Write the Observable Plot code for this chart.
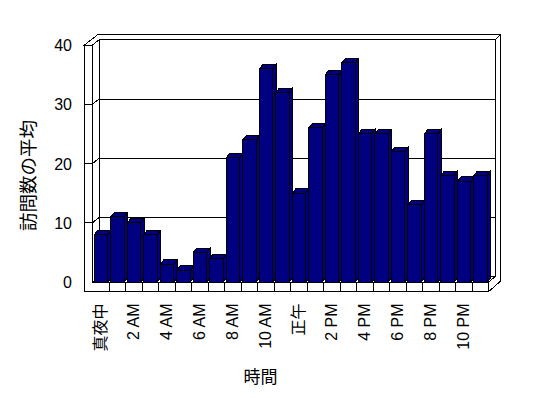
<!DOCTYPE html>
<html><head><meta charset="utf-8">
<script src="https://cdn.jsdelivr.net/npm/d3@7"></script>
<script src="https://cdn.jsdelivr.net/npm/@observablehq/plot@0.6"></script>
<style>body{margin:0;background:#fff}</style>
</head><body><div id="chart"></div>
<script>
// ---- data ----
const hours = [0,1,2,3,4,5,6,7,8,9,10,11,12,13,14,15,16,17,18,19,20,21,22,23];
const visits = [8,11,10,8,3,2,5,4,21,24,36,32,15,26,35,37,25,25,22,13,25,18,17,18];
const xTickHours = [0,2,4,6,8,10,12,14,16,18,20,22];
const xTickLabels = ["真夜中","2 AM","4 AM","6 AM","8 AM","10 AM","正午","2 PM","4 PM","6 PM","8 PM","10 PM"];
const yTicks = [0,10,20,30,40];
const yGrid = [10,20,30];
const yTitle = "訪問数の平均";
const xTitle = "時間";

const rows = hours.map((h, i) => ({h, v: visits[i]}));

// ---- 3D styling constants (pixels) ----
const DEPTH = [6.5, -5.2];   // floor depth
const WALL = [5.7, -5.5];    // back wall thickness
const BAR = [3.3, -4.3];     // bar depth
const LW = 8;                // left wall front thickness
const FLOOR = 9.7;           // floor thickness
const BL = 0.12, BR = 0.93;  // bar front face within band
const NAVY = "#000080";

function pts(a) { return a.map(p => p[0] + "," + p[1]).join(" "); }

function frame3d(index, scales) {
  const x = scales.x, y = scales.y;
  const X0 = x(0), X1 = x(hours.length), Y0 = y(0), YT = y(40);
  const [dx, dy] = DEPTH, [tx, ty] = WALL;
  const g = d3.create("svg:g").attr("fill", "white").attr("stroke", "black")
    .attr("stroke-width", 1).attr("shape-rendering", "crispEdges");
  const poly = a => g.append("polygon").attr("points", pts(a));
  poly([[X0+dx,YT+dy],[X1+dx,YT+dy],[X1+dx,Y0+dy],[X0+dx,Y0+dy]]);
  poly([[X0-LW,YT],[X0,YT],[X0+dx,YT+dy],[X1+dx,YT+dy],[X1+dx+tx,YT+dy+ty],[X0-LW+dx+tx+1.5,YT+dy+ty]]);
  poly([[X1,Y0+FLOOR],[X1,Y0],[X1+dx,Y0+dy],[X1+dx,YT+dy],[X1+dx+tx,YT+dy+ty],[X1+dx+tx,Y0+FLOOR+dy+ty]]);
  poly([[X0,YT],[X0+dx,YT+dy],[X0+dx,Y0+dy],[X0,Y0]]);
  poly([[X0,Y0],[X1,Y0],[X1+dx,Y0+dy],[X0+dx,Y0+dy]]);
  poly([[X0-LW,YT],[X0,YT],[X0,Y0],[X1,Y0],[X1,Y0+FLOOR],[X0-LW,Y0+FLOOR]]);
  for (const v of yGrid) {
    const yv = y(v);
    g.append("polyline").attr("fill", "none")
      .attr("points", pts([[X0-LW,yv],[X0,yv],[X0+dx,yv+dy],[X1+dx,yv+dy]]));
  }
  for (let k = 1; k < hours.length; k++) {
    g.append("line").attr("x1", x(k)).attr("x2", x(k)).attr("y1", Y0).attr("y2", Y0+FLOOR);
  }
  return g.node();
}

function barSides(index, scales) {
  const x = scales.x, y = scales.y;
  const [bx, by] = BAR;
  const g = d3.create("svg:g").attr("fill", NAVY).attr("stroke", "black")
    .attr("stroke-width", 1).attr("shape-rendering", "crispEdges");
  for (const d of rows) {
    const xl = x(d.h + BL), xr = x(d.h + BR), yt = y(d.v), yb = y(0);
    g.append("polygon").attr("points", pts([[xr,yt],[xr+bx,yt+by],[xr+bx,yb+by],[xr,yb]]));
    g.append("polygon").attr("points", pts([[xl,yt],[xr,yt],[xr+bx,yt+by],[xl+bx,yt+by]]));
  }
  return g.node();
}

const chart = Plot.plot({
  width: 548,
  height: 398,
  marginLeft: 92.5,
  marginRight: 59.5,
  marginTop: 45,
  marginBottom: 116,
  x: {type: "linear", domain: [0, hours.length], axis: null},
  y: {domain: [0, 40], axis: null},
  style: {fontFamily: "'Liberation Sans', 'Noto Sans CJK JP', sans-serif", fontSize: "16px", background: "white", color: "black", overflow: "visible"},
  marks: [
    frame3d,
    barSides,
    Plot.rect(rows, {x1: d => d.h + BL, x2: d => d.h + BR, y1: 0, y2: "v", fill: NAVY, stroke: "black", strokeWidth: 1, shapeRendering: "crispEdges"}),
    Plot.text(yTicks, {x: 0, y: d => d, text: d => String(d), textAnchor: "end", dx: -21, dy: 0.5, fontSize: 16, fill: "black"}),
    Plot.text(xTickHours, {x: d => d + 0.5, y: 0, text: (d, i) => xTickLabels[i], rotate: -90, textAnchor: "end", dy: 21, fontSize: 16, fill: "black"}),
    Plot.text([xTitle], {frameAnchor: "bottom", textAnchor: "middle", lineAnchor: "middle", dx: -30.5, dy: 94.7, fontSize: 17, fill: "black"}),
    Plot.text([yTitle], {frameAnchor: "left", textAnchor: "middle", lineAnchor: "middle", rotate: -90, dx: -64.2, dy: 11.5, fontSize: 18.5, fill: "black"})
  ]
});
document.getElementById("chart").appendChild(chart);
</script>
</body></html>
